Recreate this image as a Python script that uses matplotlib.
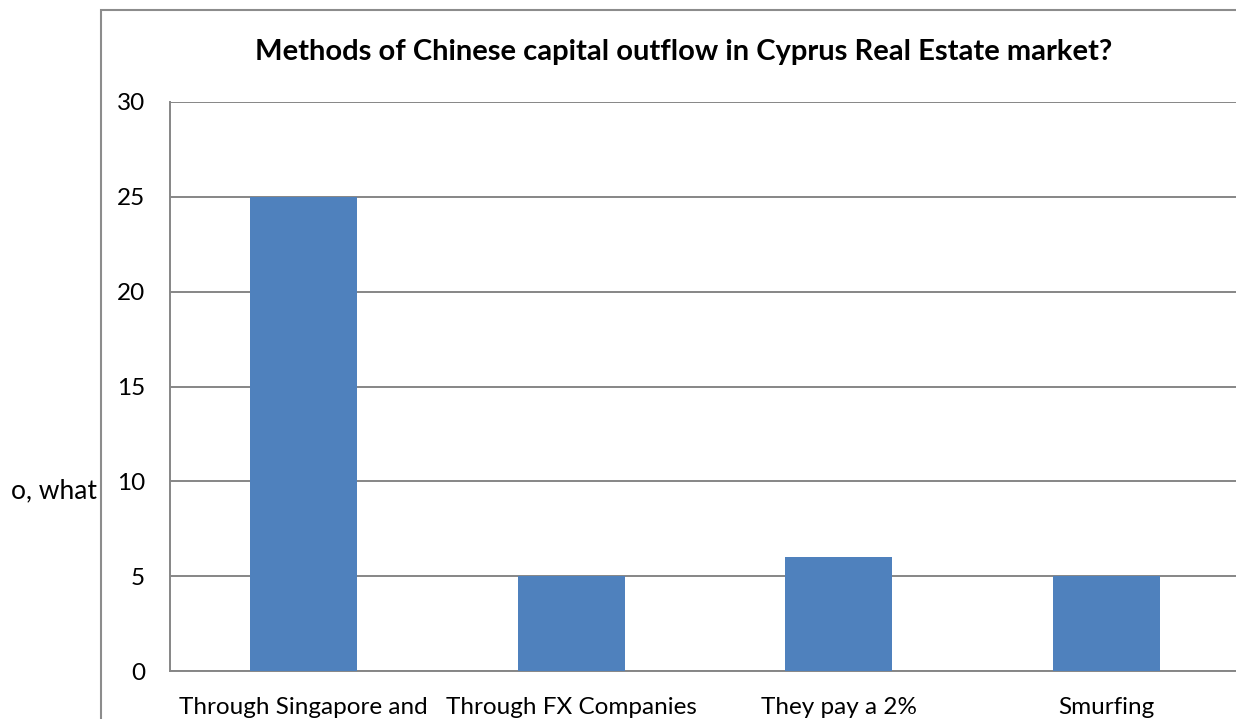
import matplotlib.pyplot as plt
from matplotlib.patches import Rectangle

categories = ['Through Singapore and', 'Through FX Companies', 'They pay a 2%', 'Smurfing']
values = [25, 5, 6, 5]
y_ticks = [0, 5, 10, 15, 20, 25, 30]
title = 'Methods of Chinese capital outflow in Cyprus Real Estate market?'

plt.rcParams['font.family'] = ['Lato', 'DejaVu Sans']

W, H = 1236, 719
fig = plt.figure(figsize=(W / 100, H / 100), dpi=100)

# outer chart frame (runs off the right and bottom edges)
fig.patches.append(Rectangle((100.5 / W, -0.1), 1.2, 1 - 10 / H + 0.1,
                             transform=fig.transFigure, fill=False,
                             edgecolor='#8c8c8c', linewidth=1.5))

# plot area, right edge falls just past the image
left, right, top, bottom = 170, 1240, 102, 671
ax = fig.add_axes([left / W, 1 - bottom / H, (right - left) / W, (bottom - top) / H])

x = range(len(categories))
ax.bar(x, values, width=0.4, color='#4F81BD', zorder=3)
ax.set_xlim(-0.5, len(categories) - 0.5)
ax.set_ylim(0, 30)
ax.set_yticks(y_ticks)
ax.set_xticks(list(x))
ax.set_xticklabels(categories)

ax.grid(axis='y', color='#868686', linewidth=1.4, zorder=0)
for s in ['top', 'right']:
    ax.spines[s].set_visible(False)
for s in ['left', 'bottom']:
    ax.spines[s].set_color('#868686')
    ax.spines[s].set_linewidth(1.4)
ax.tick_params(axis='both', length=0, labelsize=17.5)
ax.tick_params(axis='y', pad=18)
ax.tick_params(axis='x', pad=19)

fig.text(684 / W, 1 - 52 / H, title, ha='center', va='center',
         fontsize=21, fontweight='bold')
fig.text(97 / W, 1 - 491 / H, 'o, what', ha='right', va='center', fontsize=19)

fig.savefig('out.png', dpi=100)
